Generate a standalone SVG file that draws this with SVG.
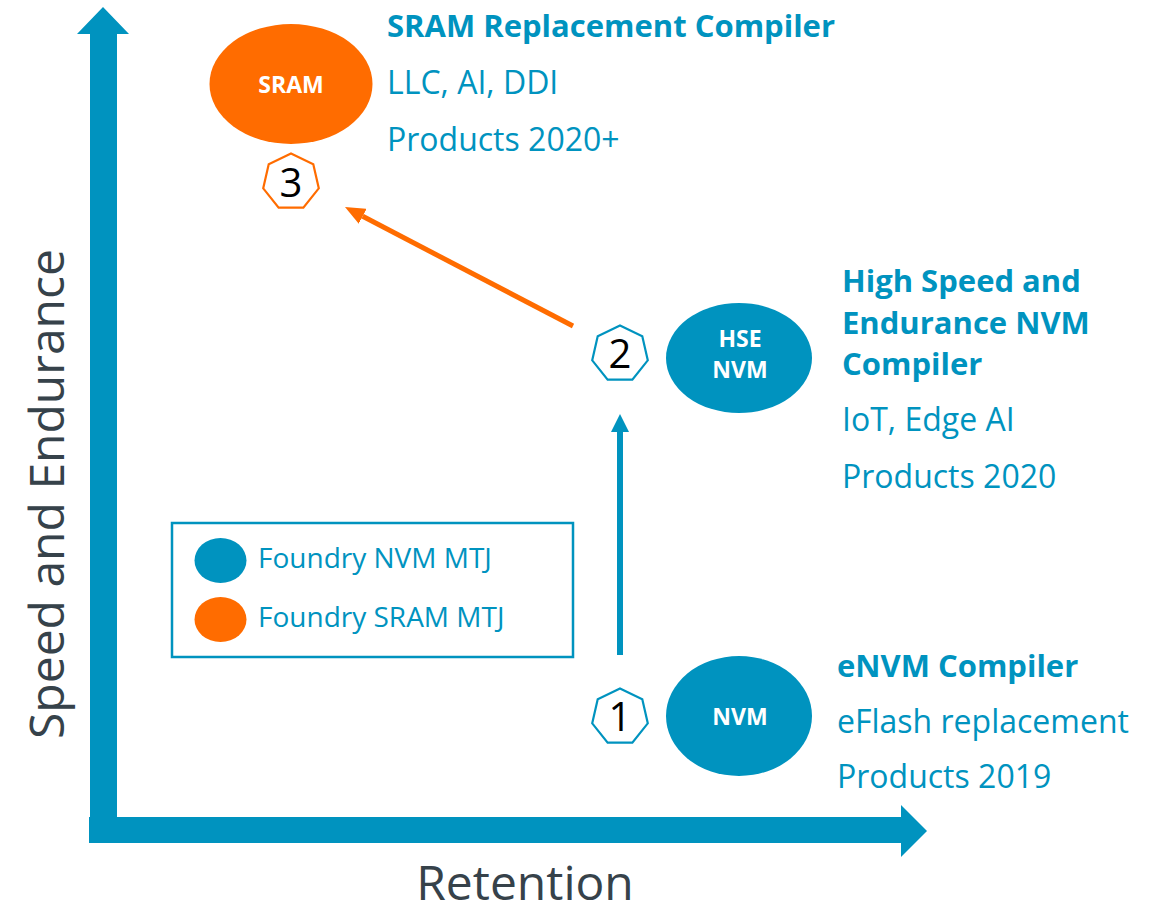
<svg xmlns="http://www.w3.org/2000/svg" width="1159" height="906" viewBox="0 0 1159 906">
  <style>
    .teal { fill: #0093BF; }
    .orange { fill: #FF6C00; }
    .hept { fill: #FFFFFF; stroke-width: 2.2; }
    .hept.t { stroke: #0093BF; }
    .hept.o { stroke: #FF6C00; }
    .num { font-family: "Open Sans", "DejaVu Sans", sans-serif; font-size: 40px; fill: #000000; text-anchor: middle; }
    .lbl { font-family: "Open Sans", "DejaVu Sans", sans-serif; font-size: 23px; font-weight: 700; fill: #FFFFFF; text-anchor: middle; }
    .head { font-family: "Open Sans", "DejaVu Sans", sans-serif; font-size: 31px; font-weight: 700; fill: #0093BF; }
    .desc { font-family: "Open Sans", "DejaVu Sans", sans-serif; font-size: 32px; fill: #0093BF; }
    .leg { font-family: "Open Sans", "DejaVu Sans", sans-serif; font-size: 28px; fill: #0093BF; }
    .axis { font-family: "Open Sans", "DejaVu Sans", sans-serif; font-size: 48px; fill: #36424A; text-anchor: middle; }
  </style>
  <defs>
    <polygon id="hept" points="0,-28.5 22.28,-17.77 27.78,6.34 12.37,25.68 -12.37,25.68 -27.78,6.34 -22.28,-17.77"/>
    <marker id="headBlue" markerUnits="userSpaceOnUse" markerWidth="18" markerHeight="18" refX="0" refY="9" orient="auto">
      <path d="M0,0 L18,9 L0,18 z" fill="#0093BF"/>
    </marker>
    <marker id="headOrange" markerUnits="userSpaceOnUse" markerWidth="20" markerHeight="17" refX="0" refY="8.5" orient="auto">
      <path d="M0,0 L20,8.5 L0,17 z" fill="#FF6C00"/>
    </marker>
  </defs>

  <!-- axes -->
  <g id="axes">
    <path class="teal" d="M90,34 L77,34 L103,7 L129,34 L117,34 L117,817 L901,817 L901,805 L927,831 L901,857 L901,843 L89,843 L89,817 L90,817 Z"/>
    <text class="axis" x="525" y="900">Retention</text>
    <text class="axis" transform="translate(64,494) rotate(-90)">Speed and Endurance</text>
  </g>

  <!-- connectors -->
  <g id="connectors">
    <line x1="620" y1="655" x2="620" y2="432" stroke="#0093BF" stroke-width="6" marker-end="url(#headBlue)"/>
    <line x1="573" y1="326" x2="362.7" y2="216.3" stroke="#FF6C00" stroke-width="5" marker-end="url(#headOrange)"/>
  </g>

  <!-- step 3: SRAM -->
  <g id="node-sram">
    <ellipse class="orange" cx="291" cy="84" rx="81.5" ry="60"/>
    <text class="lbl" x="291" y="93">SRAM</text>
    <use href="#hept" class="hept o" x="291" y="182"/>
    <text class="num" x="291" y="197">3</text>
    <text class="head" x="387" y="37">SRAM Replacement Compiler</text>
    <text class="desc" x="387" y="94">LLC, AI, DDI</text>
    <text class="desc" x="387" y="151">Products 2020+</text>
  </g>

  <!-- step 2: HSE NVM -->
  <g id="node-hse">
    <ellipse class="teal" cx="739" cy="358" rx="73" ry="55"/>
    <text class="lbl" x="740" y="347">HSE</text>
    <text class="lbl" x="740" y="378">NVM</text>
    <use href="#hept" class="hept t" x="620" y="354"/>
    <text class="num" x="620" y="368">2</text>
    <text class="head" x="842" y="292">High Speed and</text>
    <text class="head" x="842" y="334">Endurance NVM</text>
    <text class="head" x="842" y="375">Compiler</text>
    <text class="desc" x="842" y="431">IoT, Edge AI</text>
    <text class="desc" x="842" y="488">Products 2020</text>
  </g>

  <!-- step 1: NVM -->
  <g id="node-nvm">
    <ellipse class="teal" cx="739" cy="716" rx="73" ry="60"/>
    <text class="lbl" x="740" y="725">NVM</text>
    <use href="#hept" class="hept t" x="620" y="717"/>
    <text class="num" x="620" y="731">1</text>
    <text class="head" x="837" y="677">eNVM Compiler</text>
    <text class="desc" x="837" y="733">eFlash replacement</text>
    <text class="desc" x="837" y="788">Products 2019</text>
  </g>

  <!-- legend -->
  <g id="legend">
    <rect x="172" y="523" width="401" height="134" fill="none" stroke="#0093BF" stroke-width="2.5"/>
    <ellipse class="teal" cx="220.5" cy="560.5" rx="26" ry="22.5"/>
    <text class="leg" x="258" y="568">Foundry NVM MTJ</text>
    <ellipse class="orange" cx="220.5" cy="619.5" rx="26" ry="22.5"/>
    <text class="leg" x="258" y="627">Foundry SRAM MTJ</text>
  </g>
</svg>
